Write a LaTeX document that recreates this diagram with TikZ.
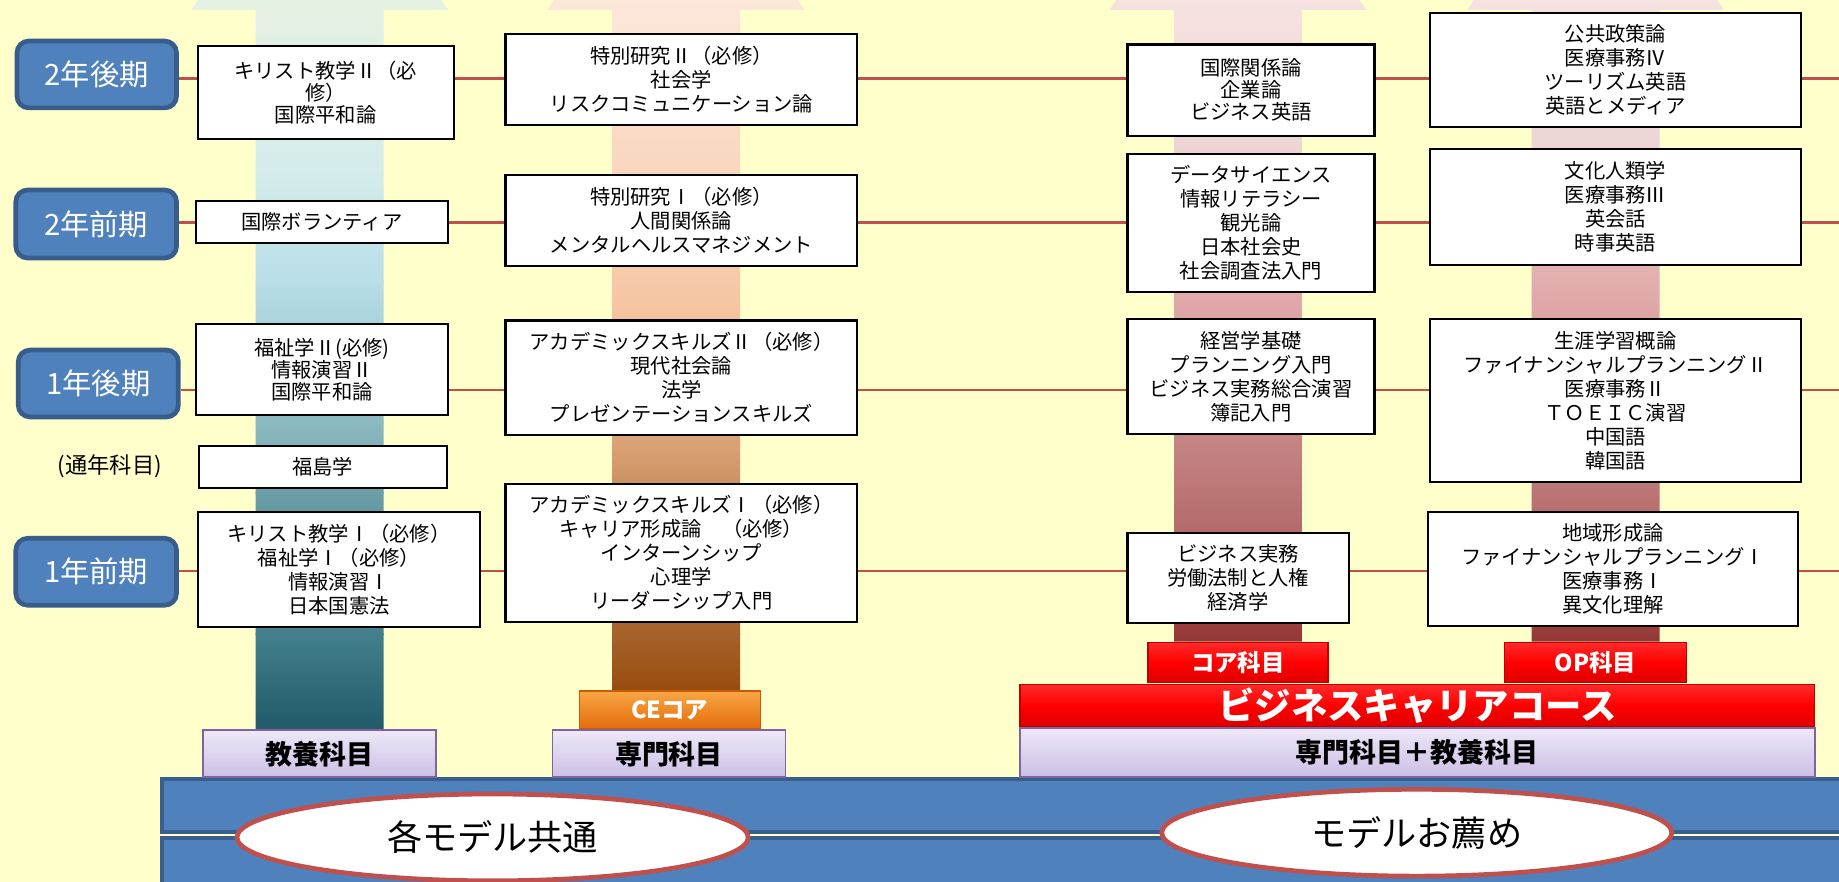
\documentclass[tikz,border=0pt]{standalone}
\usepackage{fontspec}
\setmainfont{Noto Sans CJK JP}
\usetikzlibrary{shapes.geometric}
\definecolor{bgy}{HTML}{FFFFCC}
\definecolor{semf}{HTML}{4F81BD}
\definecolor{semb}{HTML}{385D8A}
\definecolor{rowl}{HTML}{C0504D}
\definecolor{lavt}{HTML}{EEE8F8}
\definecolor{lavbot}{HTML}{CCBFE5}
\definecolor{lavb}{HTML}{8064A2}
\definecolor{bandf}{HTML}{4F81BD}
\definecolor{bandb}{HTML}{3A5F8E}
\definecolor{ovb}{HTML}{C0504D}
\definecolor{cet}{HTML}{F9A646}
\definecolor{ceb}{HTML}{E46C0A}
\definecolor{ced}{HTML}{C85A08}
\definecolor{redt}{HTML}{FF2A2A}
\definecolor{redm}{HTML}{FF0000}
\definecolor{redbt}{HTML}{DD0000}
\definecolor{redd}{HTML}{C00000}
% teal arrow stops
\definecolor{t0}{HTML}{E9F3E2}
\definecolor{t1}{HTML}{E4F1E3}
\definecolor{t2}{HTML}{D3ECEB}
\definecolor{t3}{HTML}{B8DEE7}
\definecolor{t4}{HTML}{8CB9C0}
\definecolor{t5}{HTML}{6B9EA6}
\definecolor{t6}{HTML}{44808B}
\definecolor{t7}{HTML}{215968}
% orange arrow stops
\definecolor{o0}{HTML}{FDEDE2}
\definecolor{o1}{HTML}{FCE6D8}
\definecolor{o2}{HTML}{FAD8C2}
\definecolor{o3}{HTML}{F6C6A2}
\definecolor{o4}{HTML}{D9A174}
\definecolor{o5}{HTML}{BA7A45}
\definecolor{o6}{HTML}{A6612A}
\definecolor{o7}{HTML}{974C0E}
% red arrow stops
\definecolor{r0}{HTML}{F8E8E6}
\definecolor{r1}{HTML}{F5E1E0}
\definecolor{r2}{HTML}{EED5D5}
\definecolor{r3}{HTML}{E1AAAA}
\definecolor{r4}{HTML}{C07C7C}
\definecolor{r5}{HTML}{B06464}
\definecolor{r6}{HTML}{943634}

\newcommand\gradarrow[4]{%
  \begin{scope}
    \clip (#1,#3) -- (#1,8.5) -- ({#1-55},8.5) -- ({(#1+#2)/2},-150) -- ({#2+55},8.5) -- (#2,8.5) -- (#2,#3) -- cycle;
    \foreach \ya/\yb/\ca/\cb in {#4}
      \shade[top color=\ca, bottom color=\cb] ({#1-60},\ya) rectangle ({#2+60},{\yb+0.6});
  \end{scope}}

\tikzset{
  sem/.style={draw=semb, fill=semf, line width=4pt, rounded corners=10pt, text=white,
    inner sep=0pt, font=\fontsize{25}{30}\selectfont},
  cbox/.style={draw=black, fill=white, line width=1.8pt, align=center, inner sep=0pt,
    font=\fontsize{17.3}{20.5}\selectfont},
  tightlines/.style={font=\fontsize{17.3}{18.7}\selectfont},
  rowline/.style={draw=rowl, line width=2.2pt},
  lav/.style={draw=lavb, line width=1.5pt, top color=lavt, bottom color=lavbot, inner sep=0pt,
    font=\bfseries\fontsize{23}{26}\selectfont},
  cebox/.style={draw=ced, line width=1pt, top color=cet, bottom color=ceb, inner sep=0pt,
    text=white, font=\bfseries\fontsize{20}{24}\selectfont},
  redbox/.style={draw=redd, line width=1pt, top color=redt, bottom color=redbt, middle color=redm,
    inner sep=0pt, text=white, font=\bfseries\fontsize{20}{24}\selectfont},
  redbig/.style={redbox, font=\bfseries\fontsize{31}{34}\selectfont},
  band/.style={fill=bandf, draw=bandb, line width=3pt},
  oval/.style={ellipse, draw=ovb, line width=4pt, fill=white, inner sep=0pt,
    font=\fontsize{30}{34}\selectfont},
  plain/.style={inner sep=0pt, font=\fontsize{19}{22}\selectfont}
}

\begin{document}
\begin{tikzpicture}[x=1pt,y=-1pt]
\useasboundingbox (0,0) rectangle (1568,752);
\clip (0,0) rectangle (1568,752);
\fill[bgy] (0,0) rectangle (1568,752);

% big upward arrows
\gradarrow{218}{327}{622}{-150/15/t0/t1, 15/150/t1/t2, 150/240/t2/t3, 240/360/t3/t4, 360/420/t4/t5, 420/540/t5/t6, 540/622/t6/t7}
\gradarrow{522}{631}{589}{-150/15/o0/o1, 15/130/o1/o2, 130/260/o2/o3, 260/380/o3/o4, 380/460/o4/o5, 460/540/o5/o6, 540/589/o6/o7}
\gradarrow{1001}{1110}{547}{-150/15/r0/r1, 15/120/r1/r2, 120/250/r2/r3, 250/400/r3/r4, 400/470/r4/r5, 470/547/r5/r6}
\gradarrow{1306}{1415}{547}{-150/15/r0/r1, 15/120/r1/r2, 120/250/r2/r3, 250/400/r3/r4, 400/470/r4/r5, 470/547/r5/r6}

% semester labels
\node[sem, minimum width=136pt, minimum height=57pt] (L1) at (82.5,63.5) {2年後期};
\node[sem, minimum width=137pt, minimum height=58pt] (L2) at (82,191) {2年前期};
\node[sem, minimum width=136.5pt, minimum height=57pt] (L3) at (83.8,327) {1年後期};
\node[sem, minimum width=137pt, minimum height=57pt] (L4) at (82,487.5) {1年前期};

% row lines
\coordinate (E1) at (1572,66.8);
\coordinate (E2) at (1572,189.9);
\coordinate (E3) at (1572,332.5);
\coordinate (E4) at (1572,487);
\draw[rowline] (L1.east |- E1) -- (E1);
\draw[rowline] (L2.east |- E2) -- (E2);
\draw[rowline] (L3.east |- E3) -- (E3);
\draw[rowline] (L4.east |- E4) -- (E4);

\node[plain] (TN) at (93.7,397.3) {(通年科目)};

% column 1
\node[cbox, tightlines, minimum width=218.4pt, minimum height=79.2pt] (K1) at (277.7,78.9) {キリスト教学Ⅱ（必\\修）\\国際平和論};
\node[cbox, minimum width=215.2pt, minimum height=36pt] (K2) at (274.5,189.5) {国際ボランティア};
\node[cbox, tightlines, minimum width=215.2pt, minimum height=77pt] (K3) at (274.5,315) {福祉学Ⅱ(必修)\\情報演習Ⅱ\\国際平和論};
\node[cbox, minimum width=211.4pt, minimum height=36pt] (K4) at (275.2,398.3) {福島学};
\node[cbox, minimum width=241pt, minimum height=97.7pt] (K5) at (289,485.5) {キリスト教学Ⅰ（必修）\\福祉学Ⅰ（必修）\\情報演習Ⅰ\\日本国憲法};

% column 2
\node[cbox, minimum width=300pt, minimum height=77.5pt] (S1) at (581,67.6) {特別研究Ⅱ（必修）\\社会学\\リスクコミュニケーション論};
\node[cbox, minimum width=300pt, minimum height=77.2pt] (S2) at (581,187.9) {特別研究Ⅰ（必修）\\人間関係論\\メンタルヘルスマネジメント};
\node[cbox, minimum width=300pt, minimum height=97.6pt] (S3) at (581,322.1) {アカデミックスキルズⅡ（必修）\\現代社会論\\法学\\プレゼンテーションスキルズ};
\node[cbox, minimum width=300pt, minimum height=118pt] (S4) at (581,471.5) {アカデミックスキルズⅠ（必修）\\キャリア形成論　（必修）\\インターンシップ\\心理学\\リーダーシップ入門};

% column 3
\node[cbox, tightlines, minimum width=210.6pt, minimum height=77.7pt] (B1) at (1066.6,76.8) {国際関係論\\企業論\\ビジネス英語};
\node[cbox, minimum width=210.6pt, minimum height=118pt] (B2) at (1066.6,190.1) {データサイエンス\\情報リテラシー\\観光論\\日本社会史\\社会調査法入門};
\node[cbox, minimum width=210.6pt, minimum height=97.8pt] (B3) at (1066.6,321.2) {経営学基礎\\プランニング入門\\ビジネス実務総合演習\\簿記入門};
\node[cbox, minimum width=188.6pt, minimum height=76.7pt] (B4) at (1055.6,492.6) {ビジネス実務\\労働法制と人権\\経済学};

% column 4
\node[cbox, minimum width=316.4pt, minimum height=97.6pt] (O1) at (1377.4,59.7) {公共政策論\\医療事務Ⅳ\\ツーリズム英語\\英語とメディア};
\node[cbox, minimum width=316.4pt, minimum height=98.2pt] (O2) at (1377.4,176.5) {文化人類学\\医療事務Ⅲ\\英会話\\時事英語};
\node[cbox, minimum width=316.4pt, minimum height=138.3pt] (O3) at (1377.4,341.5) {生涯学習概論\\ファイナンシャルプランニングⅡ\\医療事務Ⅱ\\ＴＯＥＩＣ演習\\中国語\\韓国語};
\node[cbox, minimum width=315.4pt, minimum height=97.1pt] (O4) at (1375.4,485.2) {地域形成論\\ファイナンシャルプランニングⅠ\\医療事務Ⅰ\\異文化理解};

% bottom bands
\draw[band] (138,664) rectangle (1590,709.5);
\draw[band] (138,714.5) rectangle (1590,770);

% category boxes
\node[lav, minimum width=198.7pt, minimum height=40.2pt] (KY) at (272.7,642.7) {教養科目};
\node[lav, minimum width=198.7pt, minimum height=40.2pt] (SM) at (570.4,642.7) {専門科目};
\node[cebox, minimum width=154.5pt, minimum height=32pt] (CE) at (571,605.2) {CEコア};
\node[lav, minimum width=677.5pt, minimum height=41.5pt] (SK) at (1208.5,641.5) {専門科目＋教養科目};
\node[redbig, minimum width=677.5pt, minimum height=35.5pt] (BC) at (1208.5,601.5) {ビジネスキャリアコース};
\node[redbox, minimum width=153.5pt, minimum height=34.5pt] (CORE) at (1055.5,565) {コア科目};
\node[redbox, minimum width=155pt, minimum height=34.5pt] (OP) at (1360.5,565) {OP科目};

% ovals
\node[oval, minimum width=436pt, minimum height=74pt] (M1) at (420,714) {各モデル共通};
\node[oval, minimum width=435pt, minimum height=74pt] (M2) at (1208,710) {モデルお薦め};
\end{tikzpicture}
\end{document}
